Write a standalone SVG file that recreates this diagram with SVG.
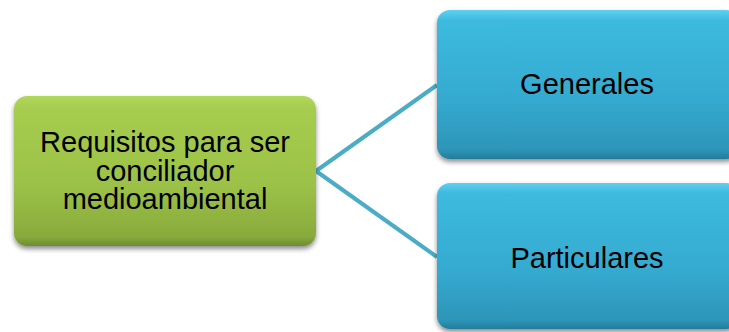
<svg xmlns="http://www.w3.org/2000/svg" width="729" height="332" viewBox="0 0 729 332">
<style>
.lbl{font-family:"Liberation Sans",Arial,sans-serif;font-size:29px;fill:#000;text-anchor:middle}
.conn{stroke:#4BACC6;stroke-width:4;fill:none;stroke-linecap:butt}
</style>
<defs>
<linearGradient id="gGreen" x1="0" y1="0" x2="0" y2="1">
<stop offset="0" stop-color="#B1D85A"/>
<stop offset="0.08" stop-color="#A6CD4F"/>
<stop offset="0.6" stop-color="#9CC147"/>
<stop offset="0.94" stop-color="#88AA3C"/>
<stop offset="1" stop-color="#6E8C2E"/>
</linearGradient>
<linearGradient id="gBlue" x1="0" y1="0" x2="0" y2="1">
<stop offset="0" stop-color="#5FD0F0"/>
<stop offset="0.07" stop-color="#3DBADF"/>
<stop offset="0.6" stop-color="#35AAD0"/>
<stop offset="0.94" stop-color="#2D95B8"/>
<stop offset="1" stop-color="#237C9A"/>
</linearGradient>
<filter id="sh" x="-10%" y="-10%" width="120%" height="130%">
<feGaussianBlur in="SourceAlpha" stdDeviation="2.5"/>
<feOffset dx="0" dy="3" result="b"/>
<feComponentTransfer><feFuncA type="linear" slope="0.45"/></feComponentTransfer>
<feMerge><feMergeNode/><feMergeNode in="SourceGraphic"/></feMerge>
</filter>
</defs>
<g id="connectors">
<line class="conn" x1="316" y1="171" x2="437" y2="85"/>
<line class="conn" x1="316" y1="171" x2="437" y2="257"/>
</g>
<g id="node-requisitos">
<rect x="14" y="96" width="302" height="150" rx="13" fill="url(#gGreen)" filter="url(#sh)"/>
<text class="lbl" x="165" y="152">Requisitos para ser</text>
<text class="lbl" x="165" y="180.5">conciliador</text>
<text class="lbl" x="165" y="209">medioambiental</text>
</g>
<g id="node-generales">
<rect x="437" y="10" width="302" height="149" rx="13" fill="url(#gBlue)" filter="url(#sh)"/>
<text class="lbl" x="587" y="94">Generales</text>
</g>
<g id="node-particulares">
<rect x="437" y="183" width="302" height="146" rx="13" fill="url(#gBlue)" filter="url(#sh)"/>
<text class="lbl" x="587" y="268">Particulares</text>
</g>
</svg>
